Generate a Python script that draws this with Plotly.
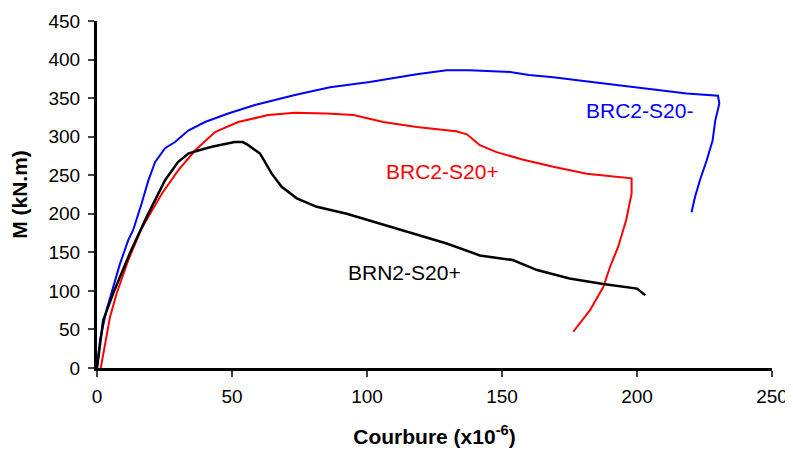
import plotly.graph_objects as go

# BRC2-S20- (blue)
blue_x = [0, 1.1, 3.5, 6, 8.5, 11.6, 13.4, 16.5, 19, 21.5, 25.2, 28.9, 33.8, 40, 48.6, 58.5, 73.3,
          86.3, 101, 118.4, 129.5, 138, 153, 160, 169, 181, 193.7, 206, 218.4, 230,
          230.5, 229, 228, 225.8, 223.3, 221.5, 220.2]
blue_y = [0, 36, 75, 105, 135, 166, 179, 213, 243, 267, 285, 293, 308, 319, 330, 341, 354,
          364, 371, 381, 386, 386, 384, 380, 377, 372, 366.6, 361, 356, 353,
          343, 321, 295, 269, 243.5, 222, 202]

# BRC2-S20+ (red)
red_x = [1.4, 3, 4.8, 7.3, 11.6, 16.5, 24, 30, 36.3, 43.7, 52.3, 63.4, 73.3, 85, 95, 106,
         118.4, 133, 137, 141.8, 148, 157.9, 169, 181.4, 193.7, 198,
         198, 196, 193, 190, 187.5, 182.6, 176.4]
red_y = [0, 32, 66, 97, 140, 181, 226, 256, 282, 306, 319, 328, 331, 330, 328, 319,
         312.6, 307, 303, 289, 280, 270, 261, 252, 247, 246,
         226, 192, 157, 131, 105, 75, 47]

# BRN2-S20+ (black)
black_x = [0, 2.3, 6, 12.2, 18.4, 25.2, 30, 33.8, 37.5, 42.5, 51, 54, 56, 60.4, 64.7, 68.4,
           74, 81.4, 92.5, 104.8, 117, 129.5, 141.8, 154, 163, 175, 187.5, 200, 203]
black_y = [0, 62, 97, 149, 196, 243.5, 267, 278, 282, 287, 293, 293, 289, 278, 252, 235,
           220, 209, 200, 187, 174.5, 161.5, 146, 140, 127, 116, 109, 103, 94.5]

labels = ["BRC2-S20-", "BRC2-S20+", "BRN2-S20+"]
label_x = [201, 127.8, 114]
label_y = [334, 255, 124]
colors = ["#0000FF", "#FF0000", "#000000"]

x_ticks = [0, 50, 100, 150, 200, 250]
y_ticks = [0, 50, 100, 150, 200, 250, 300, 350, 400, 450]

FONT = "Liberation Sans, Arial"

fig = go.Figure()
fig.add_trace(go.Scatter(x=blue_x, y=blue_y, mode="lines", line=dict(color=colors[0], width=2)))
fig.add_trace(go.Scatter(x=red_x, y=red_y, mode="lines", line=dict(color=colors[1], width=2)))
fig.add_trace(go.Scatter(x=black_x, y=black_y, mode="lines", line=dict(color=colors[2], width=2.5)))

for t, lx, ly, c in zip(labels, label_x, label_y, colors):
    fig.add_annotation(x=lx, y=ly, text=t, showarrow=False,
                       font=dict(family=FONT, size=21, color=c))

# page body has an 8px default margin, so the figure is sized to the visible area
fig.update_layout(
    width=785, height=447,
    margin=dict(l=89, r=21, t=13, b=87),
    plot_bgcolor="white", paper_bgcolor="white",
    showlegend=False,
    font=dict(family=FONT, size=19, color="black"),
)
fig.update_xaxes(range=[0, 250], tickvals=x_ticks, ticks="outside", ticklen=6, tickwidth=2,
                 showline=True, linewidth=3, linecolor="black", showgrid=False, zeroline=False,
                 tickfont=dict(size=19), automargin=False, ticklabelstandoff=3,
                 title=dict(text="<b>Courbure (x10<sup>-6</sup>)</b>", font=dict(size=21), standoff=24))
fig.update_yaxes(range=[0, 450], tickvals=y_ticks, ticks="outside", ticklen=6, tickwidth=2,
                 showline=True, linewidth=3, linecolor="black", showgrid=False, zeroline=False,
                 tickfont=dict(size=19), automargin=False, ticklabelstandoff=4,
                 title=dict(text="<b>M (kN.m)</b>", font=dict(size=21), standoff=16))

fig.write_html("out.html")
